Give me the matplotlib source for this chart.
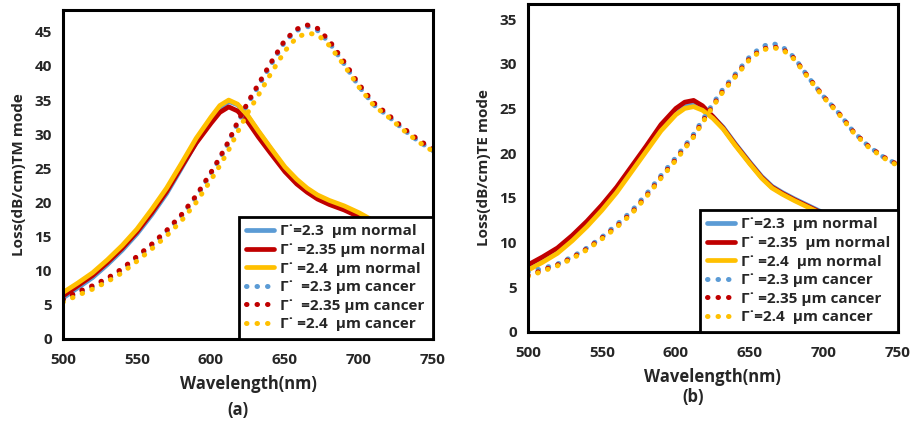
import matplotlib
matplotlib.use("Agg")
import matplotlib.pyplot as plt

plt.rcParams['font.family'] = ['Open Sans', 'DejaVu Sans']

wavelength = [500, 510, 520, 530, 540, 550, 560, 570, 580, 590, 600, 606, 612, 618,
              625, 632, 640, 650, 658, 665, 672, 680, 690, 700, 710, 720, 730, 740, 750]

# (a) TM mode
tm_normal_23 = [6.0, 7.5, 9.0, 10.9, 13.0, 15.4, 18.2, 21.3, 25.0, 28.8, 32.0, 33.8, 34.8, 34.3,
                32.6, 30.4, 28.0, 25.0, 23.2, 21.9, 20.9, 20.1, 19.3, 18.3, 17.1, 15.9, 14.7, 13.6, 12.6]
tm_normal_235 = [6.3, 7.8, 9.3, 11.2, 13.3, 15.7, 18.5, 21.6, 25.2, 28.7, 31.6, 33.2, 34.0, 33.4,
                 31.8, 29.6, 27.3, 24.5, 22.7, 21.5, 20.5, 19.7, 18.9, 17.9, 16.8, 15.6, 14.4, 13.3, 12.3]
tm_normal_24 = [6.8, 8.2, 9.7, 11.6, 13.7, 16.1, 19.0, 22.1, 25.7, 29.4, 32.5, 34.2, 35.0, 34.4,
                32.7, 30.5, 28.1, 25.2, 23.4, 22.1, 21.1, 20.3, 19.5, 18.5, 17.3, 16.1, 14.9, 13.8, 12.8]
tm_cancer_23 = [5.7, 6.7, 7.6, 8.7, 10.1, 11.9, 13.7, 15.7, 18.0, 20.8, 24.2, 26.4, 28.8, 31.6,
                34.5, 37.0, 40.0, 43.6, 45.2, 45.8, 45.2, 43.4, 40.3, 37.0, 34.3, 32.6, 30.7, 29.0, 27.6]
tm_cancer_235 = [5.8, 6.9, 7.8, 8.9, 10.3, 12.1, 13.9, 15.9, 18.2, 21.0, 24.4, 26.6, 29.0, 31.8,
                 34.7, 37.3, 40.3, 43.8, 45.4, 46.0, 45.5, 43.7, 40.6, 37.3, 34.6, 32.8, 30.9, 29.2, 27.8]
tm_cancer_24 = [5.4, 6.4, 7.3, 8.4, 9.7, 11.4, 13.2, 15.1, 17.3, 20.0, 23.3, 25.4, 27.7, 30.3,
                33.2, 35.7, 38.7, 42.2, 44.2, 44.8, 44.6, 43.0, 40.1, 36.9, 34.2, 32.5, 30.6, 28.9, 27.5]

# (b) TE mode
te_normal_23 = [7.1, 8.0, 9.0, 10.4, 12.0, 13.8, 15.8, 18.1, 20.4, 22.8, 24.6, 25.3, 25.5, 25.1,
                24.1, 22.9, 21.1, 19.0, 17.4, 16.3, 15.6, 14.9, 14.1, 13.3, 12.5, 11.7, 10.9, 10.2, 9.5]
te_normal_235 = [7.5, 8.4, 9.4, 10.8, 12.4, 14.2, 16.2, 18.5, 20.8, 23.2, 25.0, 25.7, 25.9, 25.3,
                 24.1, 22.8, 21.0, 18.9, 17.3, 16.2, 15.5, 14.8, 14.0, 13.2, 12.4, 11.6, 10.8, 10.1, 9.4]
te_normal_24 = [6.9, 7.8, 8.8, 10.2, 11.8, 13.6, 15.6, 17.9, 20.2, 22.5, 24.3, 25.0, 25.2, 24.8,
                23.9, 22.7, 20.9, 18.8, 17.2, 16.1, 15.4, 14.7, 13.9, 13.1, 12.3, 11.5, 10.7, 10.0, 9.3]
te_cancer_23 = [6.7, 7.1, 7.6, 8.4, 9.4, 10.6, 12.0, 13.5, 15.4, 17.5, 19.5, 20.8, 22.1, 23.7,
                25.5, 27.2, 28.8, 30.8, 31.9, 32.3, 31.9, 30.7, 28.4, 26.3, 24.5, 22.4, 20.8, 19.6, 18.7]
te_cancer_235 = [6.3, 6.9, 7.5, 8.3, 9.3, 10.5, 11.8, 13.3, 15.2, 17.3, 19.3, 20.6, 21.9, 23.5,
                 25.3, 27.0, 28.6, 30.6, 31.6, 31.9, 31.7, 30.6, 28.4, 26.3, 24.5, 22.4, 20.8, 19.6, 18.7]
te_cancer_24 = [6.2, 6.8, 7.4, 8.2, 9.2, 10.4, 11.7, 13.2, 15.1, 17.2, 19.2, 20.5, 21.8, 23.4,
                25.2, 26.9, 28.5, 30.5, 31.5, 31.8, 31.6, 30.5, 28.3, 26.2, 24.4, 22.3, 20.7, 19.5, 18.6]

labels_a = ["Γ˙=2.3  μm normal", "Γ˙ =2.35 μm normal", "Γ˙ =2.4  μm normal",
            "Γ˙  =2.3 μm cancer", "Γ˙  =2.35 μm cancer", "Γ˙ =2.4  μm cancer"]
labels_b = ["Γ˙=2.3  μm normal", "Γ˙ =2.35  μm normal", "Γ˙ =2.4  μm normal",
            "Γ˙ =2.3 μm cancer", "Γ˙ =2.35 μm cancer", "Γ˙=2.4  μm cancer"]

xticks = [500, 550, 600, 650, 700, 750]

BLUE, RED, YELLOW = "#5B9BD5", "#C00000", "#FFC000"
TXT = "#262626"

fig = plt.figure(figsize=(9.18, 4.24), dpi=100)
ax1 = fig.add_axes([0.0686, 0.2005, 0.403, 0.776])
ax2 = fig.add_axes([0.575, 0.217, 0.403, 0.774])

dot = (0, (0.1, 2.0))


def draw(ax, normals, cancers, labels, ylim, yticks, ylabel):
    colors = [BLUE, RED, YELLOW]
    handles = []
    for ser, c, lab in zip(normals, colors, labels[:3]):
        h, = ax.plot(wavelength, ser, color=c, lw=3.4, solid_capstyle='round',
                     solid_joinstyle='round', label=lab)
        handles.append(h)
    for ser, c, lab in zip(cancers, colors, labels[3:]):
        h, = ax.plot(wavelength, ser, color=c, lw=3.6, linestyle=dot,
                     dash_capstyle='round', label=lab)
        handles.append(h)
    ax.set_xlim(500, 750)
    ax.set_ylim(*ylim)
    ax.set_xticks(xticks)
    ax.set_yticks(yticks)
    ax.tick_params(length=0, labelsize=11, labelcolor=TXT)
    ax.tick_params(axis='x', pad=10)
    ax.tick_params(axis='y', pad=8)
    for t in ax.get_xticklabels() + ax.get_yticklabels():
        t.set_fontweight('bold')
    for s in ax.spines.values():
        s.set_linewidth(2.2)
        s.set_color('black')
    ax.set_xlabel("Wavelength(nm)", fontsize=12, fontweight='bold', color=TXT, labelpad=6)
    ax.set_ylabel(ylabel, fontsize=11, fontweight='bold', color=TXT, labelpad=6)
    leg = ax.legend(handles=handles, loc='lower right', bbox_to_anchor=(1.0, 0.0),
                    borderaxespad=0, fancybox=False, framealpha=1, edgecolor='black',
                    prop={'size': 11, 'weight': 'bold'}, handlelength=1.8,
                    handletextpad=0.4, labelspacing=0.3, borderpad=0.5)
    leg.get_frame().set_linewidth(2.0)
    for t in leg.get_texts():
        t.set_color(TXT)


draw(ax1, [tm_normal_23, tm_normal_235, tm_normal_24],
     [tm_cancer_23, tm_cancer_235, tm_cancer_24], labels_a,
     (0, 48.2), [0, 5, 10, 15, 20, 25, 30, 35, 40, 45], "Loss(dB/cm)TM mode")
draw(ax2, [te_normal_23, te_normal_235, te_normal_24],
     [te_cancer_23, te_cancer_235, te_cancer_24], labels_b,
     (0, 36.7), [0, 5, 10, 15, 20, 25, 30, 35], "Loss(dB/cm)TE mode")

fig.text(238 / 918, 1 - 410 / 424, "(a)", ha='center', va='center', fontsize=12,
         fontweight='bold', color=TXT)
fig.text(693 / 918, 1 - 397 / 424, "(b)", ha='center', va='center', fontsize=12,
         fontweight='bold', color=TXT)

fig.savefig("out.png", dpi=100)
